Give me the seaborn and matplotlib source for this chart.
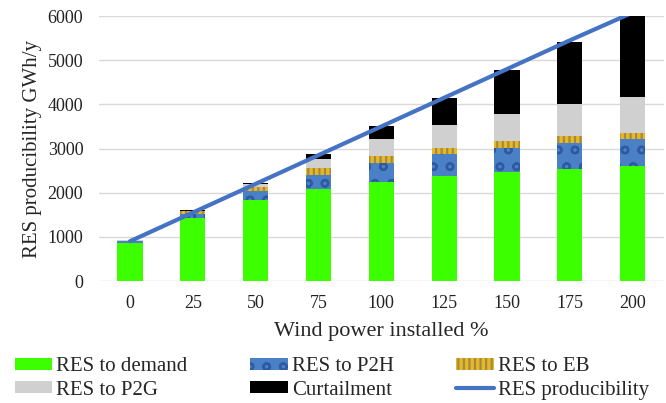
import numpy as np
import pandas as pd
import matplotlib.pyplot as plt
import seaborn as sns

# Wind power installed (%) and energy flows in GWh/y
wind = ['0', '25', '50', '75', '100', '125', '150', '175', '200']
res_demand = [850, 1420, 1830, 2080, 2250, 2380, 2475, 2535, 2600]
res_p2h = [45, 105, 210, 325, 430, 490, 545, 580, 610]
res_eb = [20, 55, 95, 160, 160, 150, 145, 165, 150]
res_p2g = [5, 15, 70, 205, 370, 520, 625, 740, 810]
curtailment = [0, 15, 25, 105, 300, 600, 990, 1400, 1900]
producibility = [900, 1550, 2200, 2850, 3500, 4150, 4800, 5450, 6080]

sns.set_style('white')
plt.rcParams['font.family'] = 'serif'
plt.rcParams['font.serif'] = ['Liberation Serif', 'Times New Roman', 'Nimbus Roman', 'DejaVu Serif']
plt.rcParams['hatch.linewidth'] = 1.6

fig = plt.figure(figsize=(6.66, 4.03), dpi=100)
ax = fig.add_axes([0.148, 0.3027, 0.849, 0.6573])

# cumulative stacks, drawn tallest first so each lower layer sits on top
layers = [
    ('RES to demand', res_demand, '#3CFF00', None, None),
    ('RES to P2H', res_p2h, '#4A80C6', 'o', '#2F5AA0'),
    ('RES to EB', res_eb, '#E8B822', '|||', '#A08A48'),
    ('RES to P2G', res_p2g, '#D0D0D0', None, None),
    ('Curtailment', curtailment, '#000000', None, None),
]
cum = np.cumsum(np.array([l[1] for l in layers]), axis=0)

handles = {}
for i in range(len(layers) - 1, -1, -1):
    name, vals, color, hatch, hcolor = layers[i]
    df = pd.DataFrame({'wind': wind, 'value': cum[i]})
    sns.barplot(data=df, x='wind', y='value', color=color, saturation=1,
                width=0.4, ax=ax, hatch=hatch,
                edgecolor=hcolor if hcolor else color, linewidth=0)
    handles[name] = ax.patches[-1]

sns.lineplot(x=np.arange(len(wind)), y=producibility, color='#4472C4',
             linewidth=3, ax=ax, label='RES producibility', legend=False)
line = ax.lines[-1]

ax.set_ylim(0, 6000)
ax.set_xlim(-0.5, len(wind) - 0.5)
ax.set_yticks(range(0, 6001, 1000))
ax.yaxis.grid(True, color='#D9D9D9', linewidth=1)
ax.set_axisbelow(True)
for s in ax.spines.values():
    s.set_visible(False)
ax.tick_params(axis='both', length=0, labelsize=13, colors='#222222')
ax.tick_params(axis='y', pad=11)
ax.tick_params(axis='x', pad=10)
ax.set_xlabel('Wind power installed %', fontsize=16, labelpad=7)
ax.set_ylabel('RES producibility GWh/y', fontsize=15, labelpad=4)

# legend, row-wise order like the original
order = ['RES to demand', 'RES to P2G', 'RES to P2H', 'Curtailment', 'RES to EB']
h = [handles['RES to demand'], handles['RES to P2G'], handles['RES to P2H'],
     handles['Curtailment'], handles['RES to EB'], line]
labels = order + ['RES producibility']
fig.legend(h, labels, ncol=3, loc='upper left', bbox_to_anchor=(0.022, 0.113),
           frameon=False, fontsize=15, handlelength=1.8, handleheight=0.5,
           handletextpad=0.2, columnspacing=3.0, labelspacing=0.2,
           borderpad=0, borderaxespad=0)

fig.savefig('out.png', dpi=100)
